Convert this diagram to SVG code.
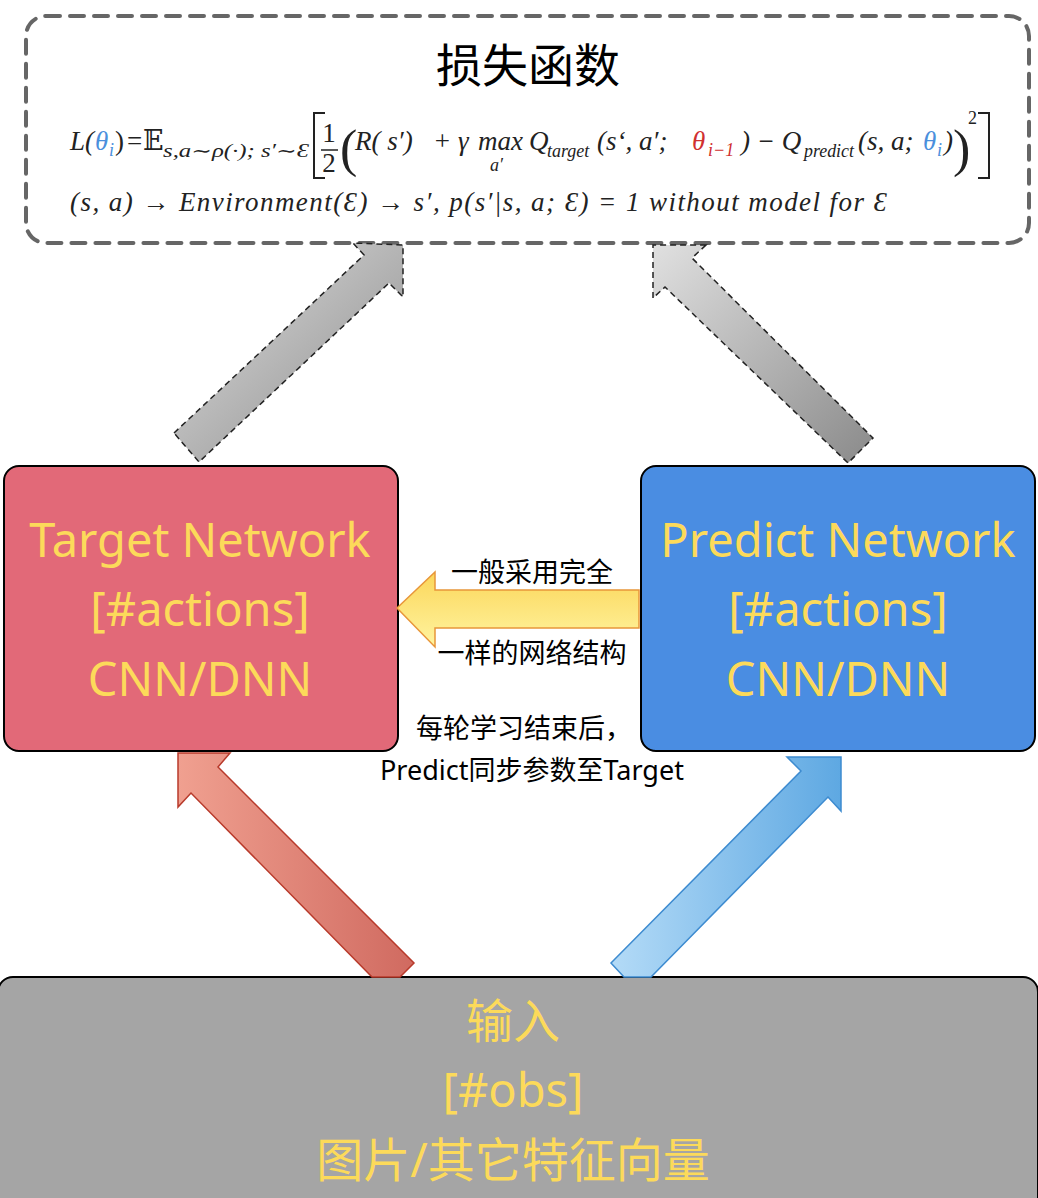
<svg xmlns="http://www.w3.org/2000/svg" width="1038" height="1198" viewBox="0 0 1038 1198">
<defs>
<linearGradient id="gg" x1="0" y1="0" x2="1" y2="1"><stop offset="0" stop-color="#e0e0e0"/><stop offset="1" stop-color="#8a8a8a"/></linearGradient>
<linearGradient id="rg" x1="0" y1="0" x2="1" y2="0"><stop offset="0" stop-color="#f0a090"/><stop offset="1" stop-color="#d06a60"/></linearGradient>
<linearGradient id="bg" x1="0" y1="0" x2="1" y2="0"><stop offset="0" stop-color="#b4dbf7"/><stop offset="1" stop-color="#5ea8e2"/></linearGradient>
<linearGradient id="yg" x1="0" y1="0" x2="0" y2="1"><stop offset="0" stop-color="#fbd65a"/><stop offset="1" stop-color="#fff4a0"/></linearGradient>
</defs>
<style>
.big{font-family:"Noto Sans","Noto Sans CJK SC",sans-serif;font-size:47px;fill:#FCDA5A;text-anchor:middle}
.lbl{font-family:"Noto Sans","Noto Sans CJK SC",sans-serif;font-size:27px;fill:#000;text-anchor:middle}
.m{font-family:"Liberation Serif","DejaVu Serif",serif;font-size:27px;fill:#222}
.i{font-style:italic}
.s{font-size:18px}
.box{stroke:#000;stroke-width:2}
</style>
<g id="loss">
<rect x="26" y="16" width="1003" height="227" rx="20" fill="none" stroke="#666" stroke-width="4" stroke-dasharray="14 10" stroke-linecap="round"/>
<text x="528" y="82" font-family="Noto Sans CJK SC, sans-serif" font-size="46" text-anchor="middle">损失函数</text>
<text class="m i" x="70" y="150">L(</text>
<text class="m i" x="95" y="150" style="fill:#4a8fdc">θ</text>
<text class="m i s" x="109" y="156" style="fill:#4a8fdc">i</text>
<text class="m" x="115" y="150">)</text>
<text class="m" x="127" y="150">=</text>
<text class="m" x="143" y="150">𝔼</text>
<text class="m i s" x="163" y="157" textLength="146" lengthAdjust="spacingAndGlyphs">s,a∼ρ(·); s′∼Ɛ</text>
<path d="M325 113 H314 V178 H325 M978 113 H989 V178 H978" fill="none" stroke="#222" stroke-width="2"/>
<text class="m" x="329" y="142" text-anchor="middle">1</text>
<line x1="321" y1="150" x2="338" y2="150" stroke="#222" stroke-width="1.5"/>
<text class="m" x="329" y="172" text-anchor="middle">2</text>
<text class="m" x="340" y="166" style="font-size:52px">(</text>
<text class="m i" x="355" y="150">R( s′)</text>
<text class="m i" x="433" y="150">+ γ</text>
<text class="m i" x="478" y="150">max</text>
<text class="m i s" x="490" y="171">a′</text>
<text class="m i" x="529" y="150">Q</text>
<text class="m i s" x="547" y="157">target</text>
<text class="m i" x="597" y="150">(s‘,  a′;</text>
<text class="m i" x="692" y="150" style="fill:#d03030">θ</text>
<text class="m i s" x="708" y="156" style="fill:#d03030">i−1</text>
<text class="m i" x="741" y="150">) − Q</text>
<text class="m i s" x="804" y="157" textLength="50" lengthAdjust="spacingAndGlyphs">predict</text>
<text class="m i" x="858" y="150">(s, a;</text>
<text class="m i" x="923" y="150" style="fill:#4a8fdc">θ</text>
<text class="m i s" x="937" y="156" style="fill:#4a8fdc">i</text>
<text class="m i" x="944" y="150">)</text>
<text class="m" x="953" y="166" style="font-size:52px">)</text>
<text class="m s" x="968" y="124">2</text>
<text class="m i" x="70" y="211" textLength="817" lengthAdjust="spacing">(s,  a)  → Environment(Ɛ)  → s′,  p(s′|s, a; Ɛ) = 1 without model for Ɛ</text>
</g>
<g id="target">
<rect class="box" x="4" y="466" width="394" height="285" rx="15" fill="#E26978"/>
<text class="big" x="200" y="557">Target Network</text>
<text class="big" x="200" y="626">[#actions]</text>
<text class="big" x="200" y="696">CNN/DNN</text>
</g>
<g id="predict">
<rect class="box" x="641" y="466" width="394" height="285" rx="15" fill="#4A8DE2"/>
<text class="big" x="838" y="557">Predict Network</text>
<text class="big" x="838" y="626">[#actions]</text>
<text class="big" x="838" y="696">CNN/DNN</text>
</g>
<g id="input">
<rect class="box" x="-2" y="977" width="1040" height="240" rx="15" fill="#A5A5A5"/>
<text class="big" x="513" y="1038">输入</text>
<text class="big" x="513" y="1107">[#obs]</text>
<text class="big" x="513" y="1177">图片/其它特征向量</text>
</g>
<g id="connectors">
<polygon points="174,433 364,255 353,243 403,245 403,297 389,283 199,462" fill="url(#gg)" stroke="#222" stroke-width="1.5" stroke-dasharray="6 4"/>
<polygon points="706,245 692,258 873,438 848,463 665,287 653,298 653,245" fill="url(#gg)" stroke="#222" stroke-width="1.5" stroke-dasharray="6 4"/>
<polygon points="178,753 230,753 218,767 414,963 400,977 372,977 191,793 178,807" fill="url(#rg)" stroke="#b83a2b" stroke-width="1.5"/>
<polygon points="787,757 841,757 841,811 828,797 651,977 624,977 611,963 801,771" fill="url(#bg)" stroke="#3d8bd0" stroke-width="1.5"/>
<polygon points="397,608 435,572 435,590 639,590 639,628 435,628 435,647" fill="url(#yg)" stroke="#e8963a" stroke-width="1.5"/>
<text class="lbl" x="532" y="582">一般采用完全</text>
<text class="lbl" x="532" y="663">一样的网络结构</text>
<text class="lbl" x="524" y="738">每轮学习结束后，</text>
<text class="lbl" x="532" y="780">Predict同步参数至Target</text>
</g>
</svg>
